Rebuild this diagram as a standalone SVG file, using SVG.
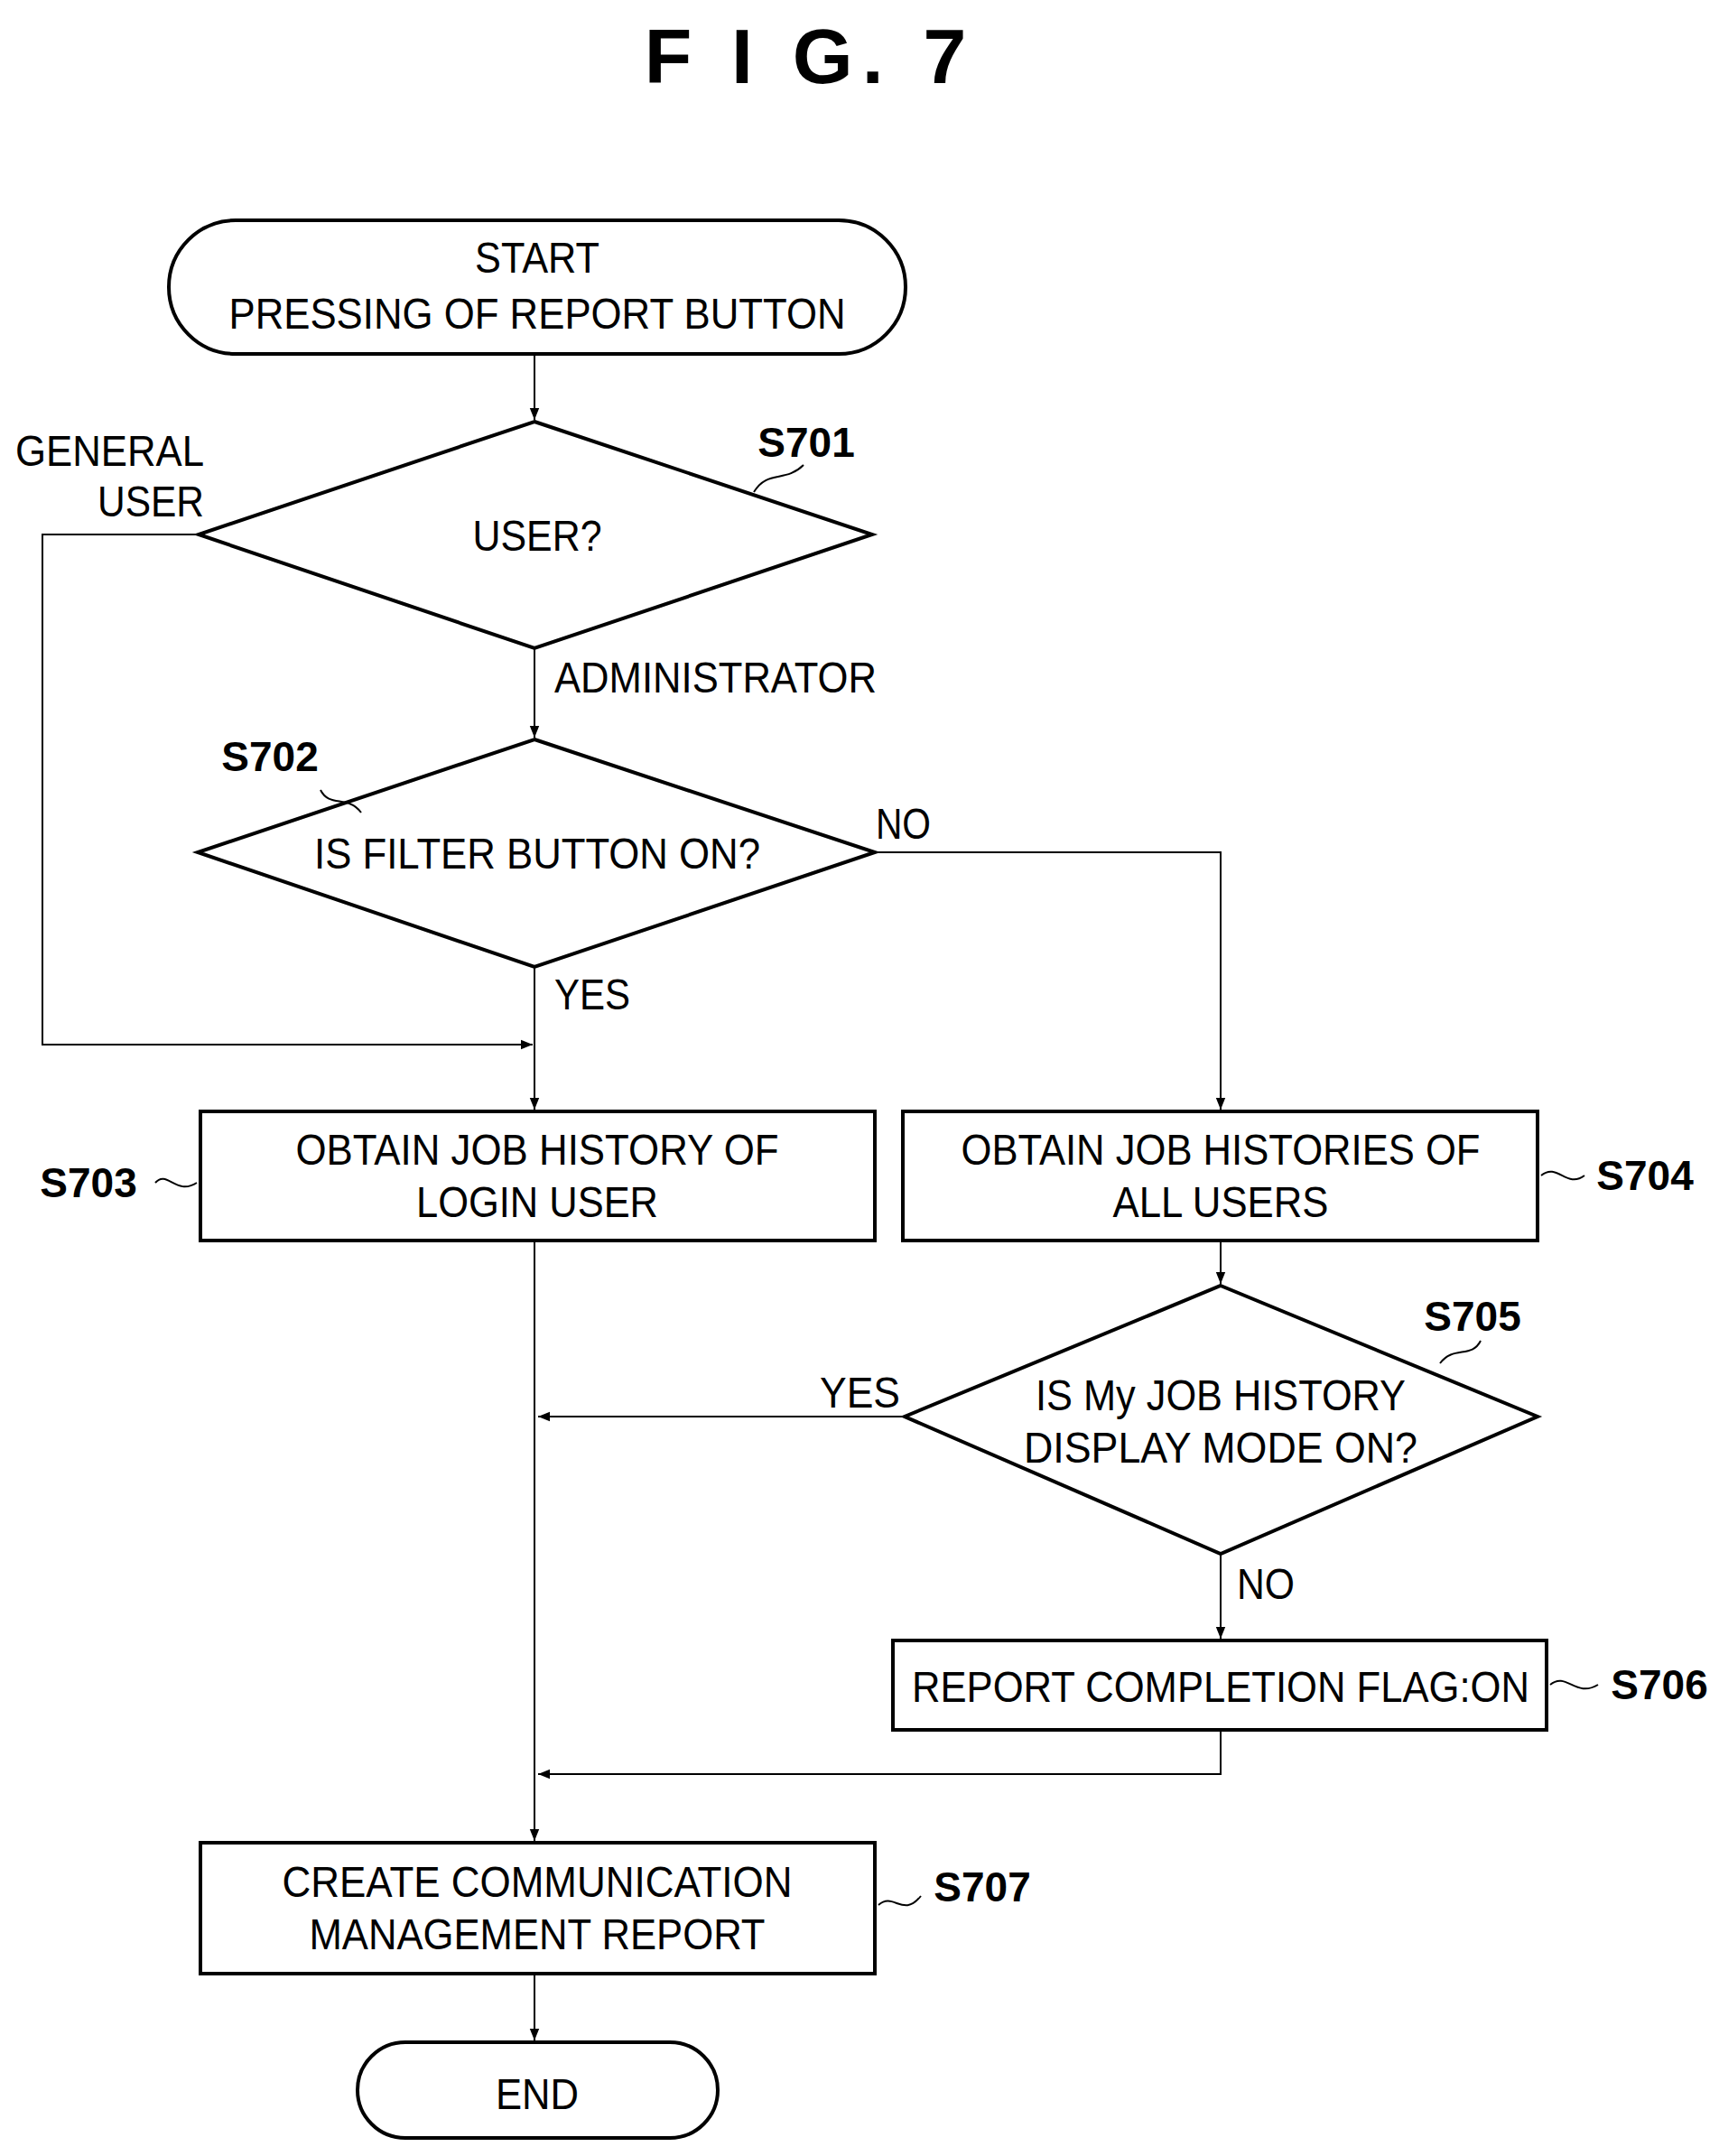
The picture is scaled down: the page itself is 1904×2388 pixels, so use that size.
<svg xmlns="http://www.w3.org/2000/svg" width="1904" height="2388" viewBox="0 0 1904 2388">
<defs>
<marker id="ar" viewBox="0 0 10 10" refX="10" refY="5" markerWidth="13" markerHeight="13" markerUnits="userSpaceOnUse" orient="auto"><path d="M0,1 L10,5 L0,9 z" fill="#000"/></marker>
<style>
.s{fill:#fff;stroke:#000;stroke-width:4}
.c{fill:none;stroke:#000;stroke-width:2}
.a{marker-end:url(#ar)}
text{font-family:"Liberation Sans",Arial,sans-serif;font-size:48px;fill:#000}
.m{text-anchor:middle}
.b{font-weight:bold;font-size:46px}
.l{fill:none;stroke:#000;stroke-width:2}
</style>
</defs>
<rect width="1904" height="2388" fill="#fff"/>
<text x="897" y="92" class="m" style="font-weight:bold;font-size:86px;letter-spacing:10px">F I G. 7</text>
<g id="connectors">
<path class="c a" d="M592,393 V465"/>
<path class="c" d="M220,592 H47 V1157 H590" marker-end="url(#ar)"/>
<path class="c a" d="M592,718 V817"/>
<path class="c a" d="M592,1071 V1229"/>
<path class="c a" d="M969,944 H1352 V1229"/>
<path class="c a" d="M1352,1374 V1422"/>
<path class="c a" d="M1002,1569 H596"/>
<path class="c a" d="M1352,1721 V1815"/>
<path class="c a" d="M1352,1916 V1965 H596"/>
<path class="c a" d="M592,1374 V2039"/>
<path class="c a" d="M592,2186 V2260"/>
</g>
<g id="start"><rect class="s" x="187" y="244" width="816" height="148" rx="74"/>
<text x="595" y="302" class="m" textLength="138" lengthAdjust="spacingAndGlyphs">START</text>
<text x="595" y="364" class="m" textLength="683" lengthAdjust="spacingAndGlyphs">PRESSING OF REPORT BUTTON</text></g>
<g id="s701"><polygon class="s" points="592,467 966,592 592,718 220,592"/>
<text x="595" y="610" class="m" textLength="143" lengthAdjust="spacingAndGlyphs">USER?</text>
<text x="893" y="506" class="m b">S701</text><path class="l" d="M835,545 C850,520 870,535 890,515"/>
<text x="226" y="516" text-anchor="end" textLength="209" lengthAdjust="spacingAndGlyphs">GENERAL</text>
<text x="226" y="572" text-anchor="end" textLength="118" lengthAdjust="spacingAndGlyphs">USER</text>
<text x="614" y="767" textLength="357" lengthAdjust="spacingAndGlyphs">ADMINISTRATOR</text></g>
<g id="s702"><polygon class="s" points="592,819 969,944 592,1071 219,944"/>
<text x="595" y="962" class="m" textLength="494" lengthAdjust="spacingAndGlyphs">IS FILTER BUTTON ON?</text>
<text x="299" y="854" class="m b">S702</text><path class="l" d="M355,875 C365,895 385,880 400,900"/>
<text x="970" y="929" textLength="61" lengthAdjust="spacingAndGlyphs">NO</text>
<text x="614" y="1118" textLength="84" lengthAdjust="spacingAndGlyphs">YES</text></g>
<g id="s703"><rect class="s" x="222" y="1231" width="747" height="143"/>
<text x="595" y="1290" class="m" textLength="535" lengthAdjust="spacingAndGlyphs">OBTAIN JOB HISTORY OF</text>
<text x="595" y="1348" class="m" textLength="268" lengthAdjust="spacingAndGlyphs">LOGIN USER</text>
<text x="98" y="1326" class="m b">S703</text><path class="l" d="M172,1310 C185,1295 195,1325 218,1310"/></g>
<g id="s704"><rect class="s" x="1000" y="1231" width="703" height="143"/>
<text x="1352" y="1290" class="m" textLength="575" lengthAdjust="spacingAndGlyphs">OBTAIN JOB HISTORIES OF</text>
<text x="1352" y="1348" class="m" textLength="239" lengthAdjust="spacingAndGlyphs">ALL USERS</text>
<text x="1822" y="1318" class="m b">S704</text><path class="l" d="M1707,1302 C1725,1287 1735,1317 1755,1302"/></g>
<g id="s705"><polygon class="s" points="1352,1424 1703,1569 1352,1721 1002,1569"/>
<text x="1352" y="1562" class="m" textLength="410" lengthAdjust="spacingAndGlyphs">IS My JOB HISTORY</text>
<text x="1352" y="1620" class="m" textLength="436" lengthAdjust="spacingAndGlyphs">DISPLAY MODE ON?</text>
<text x="1631" y="1474" class="m b">S705</text><path class="l" d="M1595,1510 C1610,1490 1630,1505 1640,1485"/>
<text x="908" y="1559" textLength="89" lengthAdjust="spacingAndGlyphs">YES</text>
<text x="1370" y="1771" textLength="64" lengthAdjust="spacingAndGlyphs">NO</text></g>
<g id="s706"><rect class="s" x="989" y="1817" width="724" height="99"/>
<text x="1352" y="1885" class="m" textLength="684" lengthAdjust="spacingAndGlyphs">REPORT COMPLETION FLAG:ON</text>
<text x="1838" y="1882" class="m b">S706</text><path class="l" d="M1717,1866 C1735,1851 1745,1881 1770,1866"/></g>
<g id="s707"><rect class="s" x="222" y="2041" width="747" height="145"/>
<text x="595" y="2101" class="m" textLength="565" lengthAdjust="spacingAndGlyphs">CREATE COMMUNICATION</text>
<text x="595" y="2159" class="m" textLength="505" lengthAdjust="spacingAndGlyphs">MANAGEMENT REPORT</text>
<text x="1088" y="2106" class="m b">S707</text><path class="l" d="M973,2110 C990,2095 1000,2125 1020,2100"/></g>
<g id="end"><rect class="s" x="396" y="2262" width="399" height="106" rx="53"/>
<text x="595" y="2336" class="m" textLength="92" lengthAdjust="spacingAndGlyphs">END</text></g>
</svg>
